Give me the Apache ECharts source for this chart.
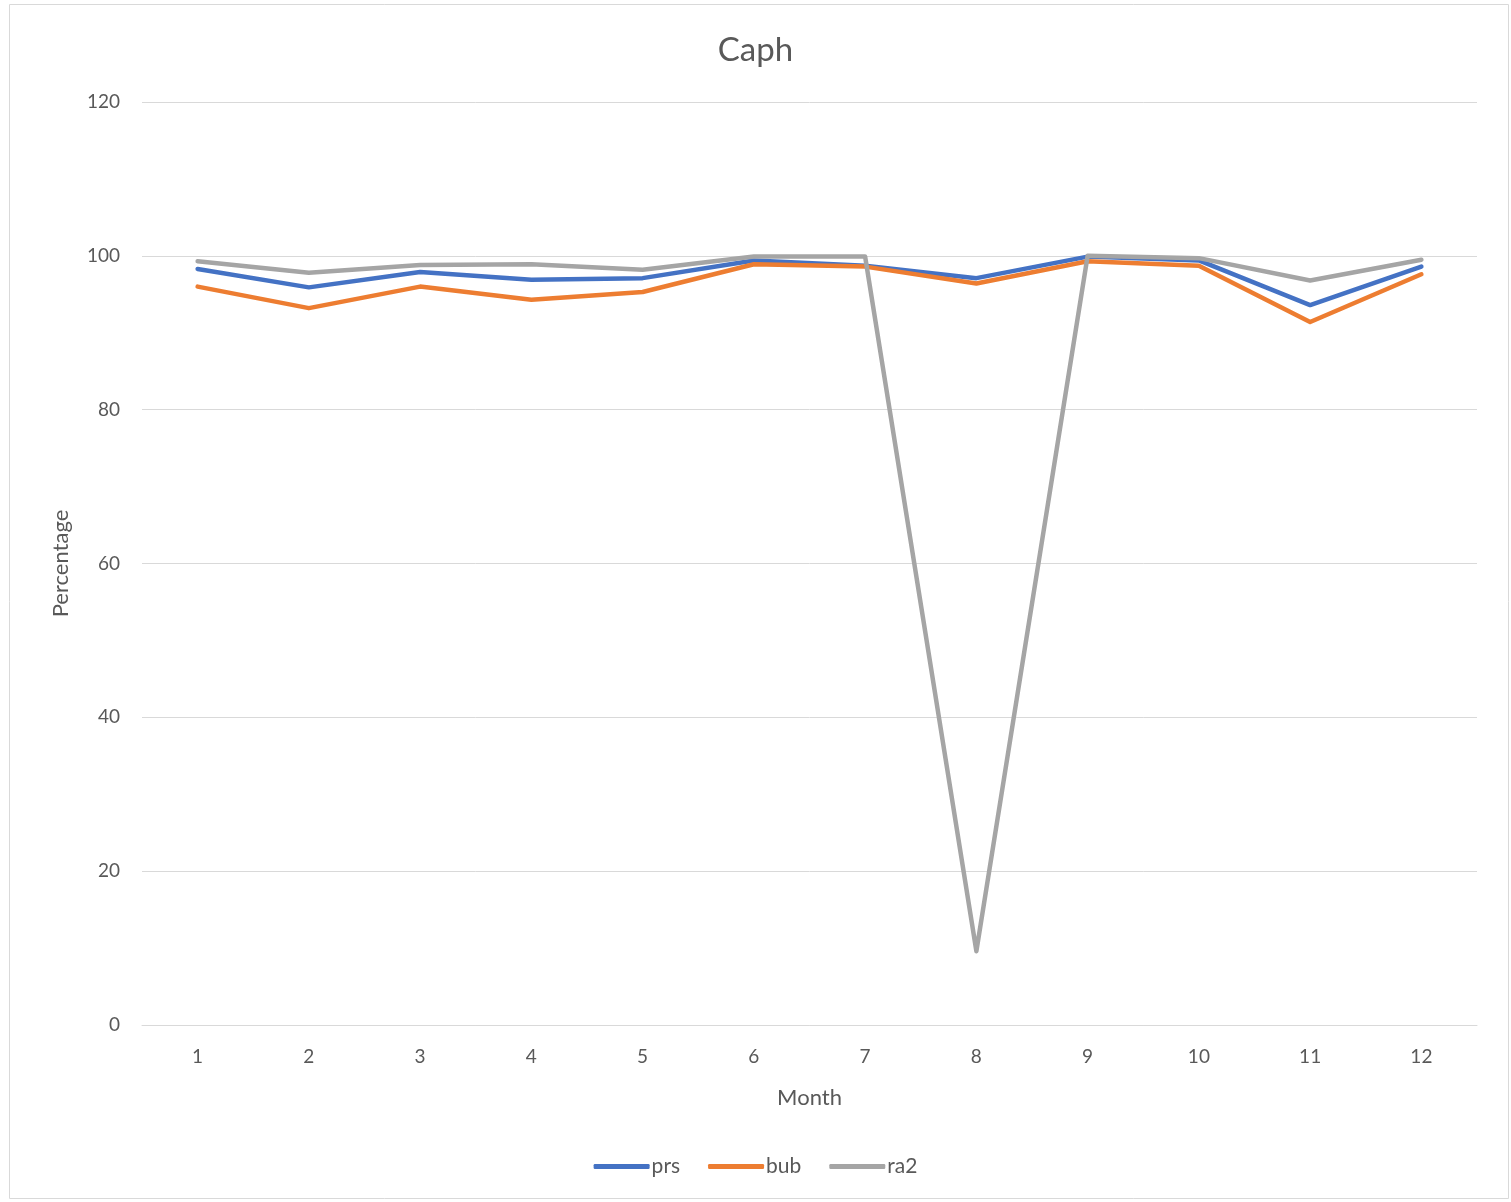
<!DOCTYPE html>
<html>
<head>
<meta charset="utf-8">
<script src="https://cdn.jsdelivr.net/npm/echarts@6/dist/echarts.min.js"></script>
<style>
  html, body { margin: 0; padding: 0; background: #fff; }
  #chart { width: 1511px; height: 1202px; }
</style>
</head>
<body>
<div id="chart"></div>
<script>
// month categories
const months = ['1', '2', '3', '4', '5', '6', '7', '8', '9', '10', '11', '12']
// series values (percent)
const prs = [98.3, 95.9, 97.9, 96.9, 97.1, 99.4, 98.7, 97.1, 99.9, 99.4, 93.6, 98.6]
const bub = [96.0, 93.2, 96.0, 94.3, 95.3, 98.9, 98.6, 96.4, 99.3, 98.7, 91.4, 97.6]
const ra2 = [99.3, 97.8, 98.8, 98.9, 98.2, 99.9, 99.9, 9.6, 100.0, 99.7, 96.8, 99.5]
// y axis ticks
const yMin = 0
const yMax = 120
const yStep = 20

const chart = echarts.init(document.getElementById('chart'))
const textColor = '#595959'
const font = 'Lato, "Open Sans", sans-serif'

const makeLine = (name, data, color) => ({
    name: name,
    type: 'line',
    data: data,
    symbol: 'none',
    lineStyle: { width: 4.5, color: color, cap: 'round', join: 'round' },
    itemStyle: { color: color }
})

chart.setOption({
    animation: false,
    textStyle: { fontFamily: font },
    graphic: [{
        type: 'rect',
        shape: { x: 9.5, y: 4.5, width: 1499, height: 1194 },
        style: { fill: 'none', stroke: '#d9d9d9', lineWidth: 1 }
    }],
    title: {
        text: 'Caph',
        left: 'center',
        top: 29,
        textStyle: { fontSize: 33, fontWeight: 'normal', color: textColor, fontFamily: font }
    },
    legend: {
        bottom: 20,
        left: 'center',
        icon: 'roundRect',
        itemWidth: 56,
        itemHeight: 5,
        itemGap: 28,
        textStyle: { fontSize: 21, color: textColor, fontFamily: font, padding: [0, 0, 0, -3] },
        data: ['prs', 'bub', 'ra2']
    },
    grid: { left: 142, right: 34, top: 102, bottom: 177 },
    xAxis: {
        type: 'category',
        data: months,
        name: 'Month',
        nameLocation: 'middle',
        nameGap: 62,
        nameTextStyle: { fontSize: 22, color: textColor },
        axisLine: { lineStyle: { color: '#d9d9d9', width: 1 } },
        axisTick: { show: false },
        axisLabel: { fontSize: 19, color: textColor, margin: 22 }
    },
    yAxis: {
        type: 'value',
        min: yMin,
        max: yMax,
        interval: yStep,
        name: 'Percentage',
        nameLocation: 'middle',
        nameGap: 70,
        nameTextStyle: { fontSize: 22, color: textColor },
        axisLine: { show: false },
        axisTick: { show: false },
        axisLabel: { fontSize: 19, color: textColor, margin: 22 },
        splitLine: { lineStyle: { color: '#d9d9d9', width: 1 } }
    },
    series: [
        makeLine('prs', prs, '#4472C4'),
        makeLine('bub', bub, '#ED7D31'),
        makeLine('ra2', ra2, '#A5A5A5')
    ]
})
</script>
</body>
</html>
